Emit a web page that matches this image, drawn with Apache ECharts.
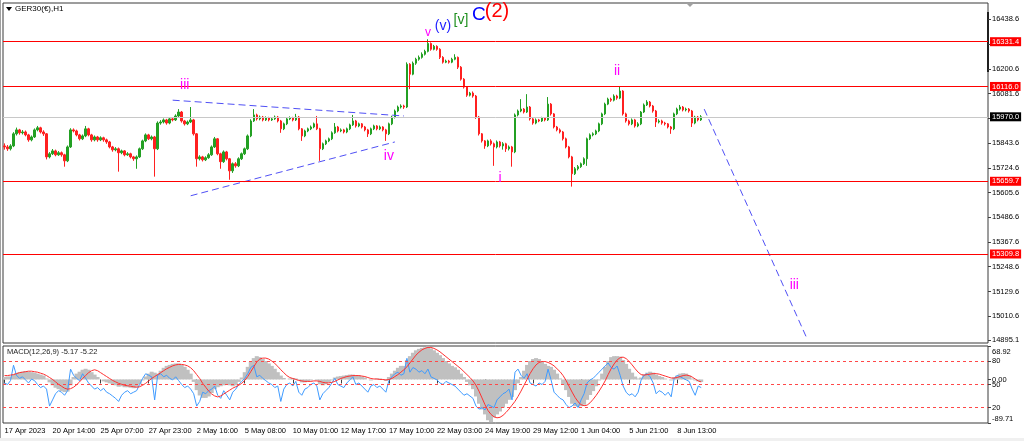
<!DOCTYPE html>
<html><head><meta charset="utf-8">
<script src="https://cdn.jsdelivr.net/npm/echarts@6/dist/echarts.min.js"></script>
<style>html,body{margin:0;padding:0;background:#fff}#c{width:1024px;height:441px}</style>
</head><body><div id="c"></div>
<script>
// ---------------- DATA ----------------
const dateTicks = ['17 Apr 2023','20 Apr 14:00','25 Apr 07:00','27 Apr 23:00','2 May 16:00','5 May 08:00','10 May 01:00','12 May 17:00','17 May 10:00','22 May 03:00','24 May 19:00','29 May 12:00','1 Jun 04:00','5 Jun 21:00','8 Jun 13:00'];
const priceTicks = [16438.6,16319.6,16200.6,16081.6,15962.6,15843.6,15724.6,15605.6,15486.6,15367.6,15248.6,15129.6,15010.6,14895.1];
const levelPrices = [16331.4,16116.0,15659.7,15309.8];
const bidPrice = 15970.0;
const firstOpen = 15830;
const closes = [
15825,15816,15830,15888,15907,15893,15897,15883,15859,15873,
15907,15917,15897,15888,15777,15792,15806,15787,15797,15787,
15758,15825,15907,15902,15883,15864,15878,15912,15883,15859,
15873,15859,15869,15859,15849,15825,15811,15816,15797,15806,
15787,15792,15777,15768,15777,15816,15854,15883,15864,15873,
15816,15940,15945,15955,15940,15960,15955,15974,15993,15950,
15936,15945,15955,15888,15768,15777,15763,15773,15787,15825,
15864,15792,15754,15801,15768,15710,15744,15734,15768,15792,
15816,15878,15950,15979,15960,15969,15955,15964,15955,15960,
15969,15950,15912,15936,15960,15964,15955,15969,15912,15878,
15902,15912,15921,15936,15912,15816,15840,15854,15864,15893,
15921,15902,15907,15897,15912,15931,15950,15926,15936,15921,
15907,15888,15912,15926,15912,15921,15907,15888,15936,15969,
15998,16017,16022,16017,16223,16175,16228,16247,16256,16271,
16285,16323,16295,16309,16295,16256,16233,16238,16233,16247,
16256,16209,16151,16113,16074,16084,16070,15969,15888,15854,
15830,15854,15840,15825,15849,15830,15840,15816,15825,15801,
15979,15998,16007,15993,16017,15960,15940,15955,15950,15964,
15955,16031,15984,15921,15907,15897,15864,15825,15777,15696,
15720,15730,15744,15768,15864,15883,15888,15902,15936,15984,
16031,16055,16050,16070,16060,16094,15984,15950,15936,15955,
15926,15936,15993,16027,16041,16022,15998,15945,15950,15940,
15936,15921,15912,15984,16007,16017,16003,16007,15998,15940,
15969,15955,15970];
const highs = [
15842,15834,15838,15896,15918,15912,15906,15904,15888,15880,
15914,15926,15922,15905,15892,15800,15815,15812,15805,15803,
15792,15832,15915,15914,15908,15888,15885,15926,15917,15888,
15880,15878,15876,15874,15865,15854,15830,15824,15822,15812,
15810,15800,15797,15782,15784,15822,15860,15890,15888,15880,
15878,15948,15954,15962,15960,15966,15968,15982,16007,15998,
15955,15952,16017,15960,15892,15785,15782,15780,15795,15832,
15873,15868,15797,15808,15806,15772,15750,15752,15775,15798,
15822,15885,15958,16007,15985,15976,15974,15972,15970,15967,
15976,15974,15955,15942,15966,15972,15970,15984,15974,15916,
15908,15918,15928,15942,15974,15917,15846,15860,15870,15900,
15940,15926,15914,15912,15918,15937,15979,15955,15942,15940,
15926,15912,15918,15932,15930,15928,15925,15912,15942,15975,
16005,16024,16030,16028,16232,16228,16236,16254,16265,16280,
16293,16343,16328,16316,16314,16300,16262,16245,16244,16254,
16271,16260,16214,16156,16118,16090,16092,16075,15974,15892,
15858,15860,15862,15846,15856,15854,15848,15845,15832,15830,
15986,16005,16055,16012,16079,16022,15964,15962,15960,15970,
15968,16065,16036,15988,15926,15914,15902,15870,15830,15782,
15728,15738,15750,15775,15870,15890,15895,15908,15942,15990,
16038,16062,16062,16078,16076,16118,16098,15990,15956,15962,
15960,15944,15998,16034,16050,16046,16027,16003,15958,15956,
15946,15940,15926,15990,16014,16027,16022,16014,16012,16003,
15975,15974,15978];
const lows = [
15812,15806,15808,15824,15880,15884,15885,15876,15850,15852,
15868,15900,15890,15878,15765,15770,15786,15780,15782,15778,
15730,15752,15820,15895,15876,15856,15858,15872,15876,15850,
15852,15850,15853,15850,15840,15818,15802,15804,15706,15790,
15780,15782,15770,15758,15720,15772,15810,15848,15858,15857,
15682,15810,15932,15938,15932,15934,15948,15950,15968,15942,
15928,15930,15940,15880,15730,15760,15755,15757,15768,15782,
15820,15785,15720,15748,15760,15667,15700,15725,15728,15762,
15786,15810,15872,15945,15952,15953,15948,15950,15948,15950,
15955,15943,15893,15906,15930,15954,15948,15950,15905,15854,
15872,15896,15906,15915,15906,15758,15810,15834,15848,15858,
15888,15895,15896,15890,15891,15906,15926,15918,15920,15914,
15900,15873,15882,15906,15905,15906,15900,15854,15882,15930,
15962,15992,16010,16008,16012,16103,16170,16220,16240,16250,
16265,16280,16288,16290,16288,16248,16226,16228,16226,16228,
16242,16200,16144,16106,16066,16068,16062,15960,15880,15846,
15816,15824,15832,15734,15818,15822,15812,15801,15808,15730,
15795,15972,15992,15986,15988,15952,15932,15934,15944,15945,
15948,15950,15976,15914,15900,15890,15856,15818,15770,15634,
15690,15712,15724,15738,15734,15858,15876,15882,15896,15930,
15978,16026,16042,16044,16052,16055,15976,15942,15928,15930,
15918,15920,15930,15988,16022,16015,15990,15921,15938,15932,
15928,15914,15888,15906,15978,16000,15996,15996,15990,15921,
15934,15948,15950];
const macdMain = [
5,6,6,10,13,15,16,17,16,15,
14,12,10,8,2,-6,-12,-17,-20,-24,
-26,-25,-12,5,12,16,20,22,20,15,
10,5,0,-4,-6,-8,-10,-12,-15,-14,
-16,-16,-17,-18,-16,-10,-2,6,12,16,
14,12,18,24,28,30,32,33,33,30,
26,20,12,-5,-22,-33,-38,-38,-35,-28,
-20,-16,-14,-12,-10,-12,-14,-12,-5,4,
15,26,36,44,48,46,42,38,33,28,
22,15,8,3,0,2,3,2,-2,-6,
-6,-4,-2,0,-2,-10,-12,-10,-6,-2,
4,6,7,8,9,10,10,9,8,6,
4,0,-2,0,2,2,0,-3,5,12,
18,24,28,28,40,48,55,60,63,65,
66,68,64,60,55,50,44,38,33,28,
25,20,12,5,-5,-12,-20,-35,-50,-62,
-72,-84,-88,-78,-72,-66,-58,-50,-42,-36,
-22,-8,5,18,30,38,42,44,42,38,
32,28,26,20,12,2,-10,-22,-36,-50,
-55,-56,-55,-52,-42,-32,-24,-14,-2,12,
26,38,46,48,48,47,40,32,22,14,
6,2,4,10,14,16,14,10,7,5,
2,0,-2,4,8,12,13,12,8,2,
-2,-4,-5.17];
const macdSignal = [
8,8,9,10,12,14,15,16,17,17,
16,15,13,11,8,4,0,-5,-10,-14,
-18,-20,-19,-16,-11,-5,2,8,14,18,
20,18,14,10,6,2,-2,-5,-8,-10,
-12,-13,-14,-15,-16,-15,-12,-8,-3,2,
6,10,14,18,22,25,28,30,31,31,
30,28,24,18,10,2,-8,-16,-24,-30,
-34,-36,-34,-30,-26,-22,-18,-15,-12,-8,
-2,6,16,26,36,42,44,44,42,38,
33,27,20,14,8,4,2,0,-2,-3,
-4,-4,-4,-3,-3,-4,-6,-7,-7,-6,
-4,-1,2,4,6,7,8,8,8,7,
6,4,2,1,1,0,0,-1,0,2,
6,10,15,20,26,34,42,50,56,61,
64,66,66,64,61,57,52,47,42,37,
32,27,22,16,10,4,-3,-12,-24,-38,
-52,-64,-72,-77,-79,-78,-74,-68,-61,-53,
-45,-35,-24,-12,0,12,22,30,35,37,
37,35,32,28,22,16,8,-2,-14,-26,
-37,-46,-52,-54,-53,-48,-41,-33,-24,-14,
-3,10,22,32,40,45,46,43,37,30,
22,15,10,9,10,11,12,12,11,9,
7,5,3,3,4,6,8,9,8,5,
1,-3,-5.22];
const oscBlue = [
52,50,55,75,62,58,60,56,52,57,
55,50,46,48,44,22,30,38,42,40,
36,42,70,62,58,55,64,58,52,48,
44,46,42,45,40,38,35,32,28,36,
40,42,38,40,42,50,58,64,62,60,
30,62,64,60,62,58,56,60,55,50,
46,48,44,38,22,28,40,38,42,44,
48,36,32,42,36,30,40,44,50,54,
58,64,72,75,60,62,58,55,52,50,
46,48,28,44,50,52,48,54,40,36,
44,46,50,52,48,30,38,42,46,52,
58,50,48,46,52,56,60,50,52,48,
44,40,48,50,46,48,44,40,55,60,
64,66,62,64,84,66,72,70,66,68,
64,70,60,58,56,52,50,54,52,50,
48,44,40,36,38,35,32,22,18,20,
17,24,22,20,30,34,38,40,44,30,
66,70,62,58,64,52,50,48,52,50,
54,70,56,40,36,32,30,24,20,22,
26,20,30,38,52,56,58,62,66,70,
74,78,72,70,74,62,48,40,36,38,
34,40,56,62,64,60,52,38,42,40,
36,40,34,58,62,60,58,56,54,44,
36,48,46];
const oscLevels = [80,50,20];
const macdTicks = [68.92,0,-89.71];
// trend lines: [ [startIndex, startPrice], [endIndex, endPrice] ]
const trendLines = [
  [[56,16050],[133,15974]],
  [[62,15590],[130,15849]],
  [[233,16007],[267,14910]]
];
// wave labels anchored at [candle index, price]
const waveLabels = [
  {text:'iii', idx:60, price:16122},
  {text:'iv', idx:128, price:15782},
  {text:'v', idx:141, price:16376},
  {text:'(v)', idx:146, price:16405},
  {text:'[v]', idx:152, price:16433},
  {text:'C', idx:158, price:16463},
  {text:'(2)', idx:164, price:16477},
  {text:'i', idx:165, price:15677},
  {text:'ii', idx:204, price:16190},
  {text:'iii', idx:263, price:15160}
];
// ---------------- STYLES ----------------
const waveStyle = {
  'iii':{c:'#ff00ff',s:14},'iv':{c:'#ff00ff',s:14},'v':{c:'#ff00ff',s:12},
  '(v)':{c:'#1f1fff',s:14},'[v]':{c:'#1f8f1f',s:14},'C':{c:'#0000ff',s:19},
  '(2)':{c:'#ff0000',s:20},'i':{c:'#ff00ff',s:14},'ii':{c:'#ff00ff',s:14}
};
const FONT = 'Liberation Sans';
const SLOT_COUNT = 328;
const slots = Array.from({length:SLOT_COUNT},(_,i)=>String(i));

const candles = closes.map((c,i)=>[i===0?firstOpen:closes[i-1], c, lows[i], highs[i]]);

const levelMarks = levelPrices.map(p=>({
  yAxis:p,
  lineStyle:{color:'#ff0000',width:1,type:'solid',opacity:1},
  label:{show:true,position:'end',distance:2,formatter:p.toFixed(1),backgroundColor:'#ff0000',color:'#fff',padding:[1,2,0,2],fontSize:7.5,fontFamily:FONT}
}));
levelMarks.push({
  yAxis:bidPrice,
  lineStyle:{color:'#c8c8c8',width:1,type:'solid',opacity:1},
  label:{show:true,position:'end',distance:2,formatter:bidPrice.toFixed(1),backgroundColor:'#000',color:'#fff',padding:[1,2,0,2],fontSize:7.5,fontFamily:FONT}
});

const trendSeries = trendLines.map(l=>({
  type:'line', xAxisIndex:0, yAxisIndex:0, data:l, symbol:'none', silent:true,
  lineStyle:{color:'#5050f5',width:1,type:[7,4]}, z:4
}));

const option = {
  animation:false,
  backgroundColor:'#fff',
  textStyle:{fontFamily:FONT},
  grid:[
    {left:3, top:3, width:985, height:340, show:true, borderColor:'#3a3a3a', borderWidth:1, backgroundColor:'#fff'},
    {left:3, top:346, width:985, height:77, show:true, borderColor:'#3a3a3a', borderWidth:1, backgroundColor:'#fff'}
  ],
  xAxis:[
    {type:'category', gridIndex:0, data:slots, boundaryGap:true, axisLine:{show:false}, axisTick:{show:false}, axisLabel:{show:false}, splitLine:{show:false}},
    {type:'category', gridIndex:1, data:slots, boundaryGap:true, axisLine:{show:false},
     axisTick:{show:true, alignWithLabel:true, length:4, lineStyle:{color:'#404040'}, interval:(i)=> i%16===0 && i/16 < dateTicks.length},
     axisLabel:{show:true, interval:(i)=> i%16===0 && i/16 < dateTicks.length, formatter:(v,i)=> dateTicks[i/16]||'', align:'left', fontSize:7.5, color:'#000', margin:4, fontFamily:FONT},
     splitLine:{show:false}}
  ],
  yAxis:[
    {type:'value', gridIndex:0, position:'right', min:14881.5, max:16517.6, scale:true,
     axisLine:{show:false}, splitLine:{show:false},
     axisTick:{show:true, customValues:priceTicks, length:3, lineStyle:{color:'#404040'}},
     axisLabel:{show:true, customValues:priceTicks, formatter:v=>v.toFixed(1), fontSize:7.5, color:'#000', margin:4, fontFamily:FONT}},
    {type:'value', gridIndex:1, position:'right', min:-89.71, max:68.92, scale:true,
     axisLine:{show:false}, splitLine:{show:false},
     axisTick:{show:true, customValues:macdTicks, length:3, lineStyle:{color:'#404040'}},
     axisLabel:{show:true, customValues:macdTicks,
       formatter:v=> v>60 ? '{t|'+v.toFixed(2)+'}' : (v<-80 ? '{b|'+v.toFixed(2)+'}' : v.toFixed(2)),
       rich:{t:{padding:[11,0,0,0],fontSize:7.5,fontFamily:FONT}, b:{padding:[0,0,9,0],fontSize:7.5,fontFamily:FONT}},
       fontSize:7.5, color:'#000', margin:4, fontFamily:FONT}},
    {type:'value', gridIndex:1, position:'right', min:0, max:100,
     axisLine:{show:false}, splitLine:{show:false},
     axisTick:{show:true, customValues:oscLevels, length:3, lineStyle:{color:'#404040'}},
     axisLabel:{show:true, customValues:oscLevels, formatter:v=>String(v), fontSize:7.5, color:'#000', margin:4, fontFamily:FONT}}
  ],
  series:[
    {type:'candlestick', xAxisIndex:0, yAxisIndex:0, data:candles, barWidth:2,
     itemStyle:{color:'#23a023', color0:'#ff2020', borderColor:'#23a023', borderColor0:'#ff2020', borderWidth:1},
     markLine:{silent:true, symbol:['none','none'], data:levelMarks},
     z:3},
    ...trendSeries,
    {type:'scatter', xAxisIndex:0, yAxisIndex:0, symbolSize:2, silent:true, z:6,
     itemStyle:{color:'rgba(0,0,0,0)'},
     data:waveLabels.map(w=>({name:w.text, value:[w.idx,w.price],
       label:{show:true, position:'inside', formatter:w.text, color:waveStyle[w.text].c, fontSize:waveStyle[w.text].s, fontFamily:FONT, opacity:1, textBorderWidth:0}}))},
    {type:'bar', xAxisIndex:1, yAxisIndex:1, data:macdMain, barWidth:4, itemStyle:{color:'#c0c0c0'}, silent:true, z:2},
    {type:'line', xAxisIndex:1, yAxisIndex:1, data:macdSignal, symbol:'none', lineStyle:{color:'#ff3030',width:1}, silent:true, z:4},
    {type:'line', xAxisIndex:1, yAxisIndex:2, data:oscBlue, symbol:'none', lineStyle:{color:'#3f9bff',width:1}, silent:true, z:3,
     markLine:{silent:true, symbol:['none','none'], label:{show:false}, lineStyle:{color:'#ff4848',type:[3,3],width:1},
       data:oscLevels.map(v=>({yAxis:v}))}}
  ],
  graphic:[
    {type:'polygon', shape:{points:[[6,7],[12,7],[9,11]]}, style:{fill:'#000'}},
    {type:'text', left:15, top:5, style:{text:'GER30(€),H1', fontSize:8, fontFamily:FONT, fill:'#000'}},
    {type:'text', left:7, top:348, style:{text:'MACD(12,26,9) -5.17 -5.22', fontSize:7.5, fontFamily:FONT, fill:'#222'}},
    {type:'polygon', shape:{points:[[686,3],[694,3],[690,7]]}, style:{fill:'#a0a0a0'}},
    {type:'rect', shape:{x:987,y:12,width:2,height:60}, style:{fill:'#202020'}},
    {type:'rect', shape:{x:0,y:0,width:1,height:441}, style:{fill:'#a0a0a0'}},
    {type:'rect', shape:{x:0,y:438,width:1024,height:3}, style:{fill:'#f0f0f0'}}
  ]
};
const chart = echarts.init(document.getElementById('c'), null, {renderer:'canvas'});
chart.setOption(option);
</script>
</body></html>
